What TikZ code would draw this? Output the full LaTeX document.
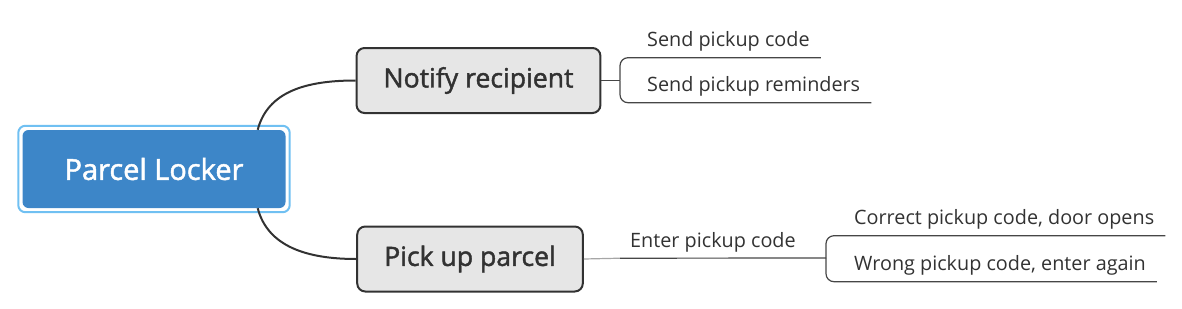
\documentclass[tikz,border=0pt]{standalone}
\usepackage{fontspec}
\setmainfont{Open Sans}
\newfontfamily\topicfont[FakeBold=1.6]{Open Sans}
\usetikzlibrary{positioning}
\definecolor{lockerblue}{RGB}{61,134,200}
\definecolor{glowblue}{RGB}{112,192,242}
\definecolor{topicgray}{RGB}{230,230,230}
\definecolor{inkgray}{RGB}{50,50,50}
\definecolor{branchgray}{RGB}{70,70,70}

\begin{document}
\begin{tikzpicture}[x=1pt, y=-1pt,
  roottopic/.style={fill=lockerblue, rounded corners=6pt, minimum width=263pt, minimum height=78pt, text=white, font=\topicfont\fontsize{29}{33}\selectfont},
  maintopic/.style={draw=inkgray, line width=2pt, fill=topicgray, rounded corners=8pt, minimum height=65pt, inner xsep=27pt, text=inkgray, font=\topicfont\fontsize{26.6}{30}\selectfont},
  subtopic/.style={anchor=base west, inner xsep=0pt, inner ysep=11pt, text depth=0pt, text=inkgray, font=\fontsize{19.8}{23}\selectfont},
  topicline/.style={draw=inkgray, line width=2pt},
  subline/.style={draw=branchgray, line width=1.2pt, rounded corners=8pt}
]
\useasboundingbox (0,0) rectangle (1182,308);

% central topic
\node[roottopic] (root) at (154,169) {Parcel Locker};
\draw[glowblue, line width=2pt, rounded corners=7pt] ([shift={(-4,-4)}]root.north west) rectangle ([shift={(4,4)}]root.south east);

% main topics
\node[maintopic] (notify) at (478.5,80.5) {Notify recipient};
\node[maintopic] (pickup) at (470,259) {Pick up parcel};

\draw[topicline] ([xshift=-28pt]root.north east) .. controls +(10,-38) and +(-50,0) .. (notify.west);
\draw[topicline] ([xshift=-28pt]root.south east) .. controls +(10,38) and +(-50,0) .. (pickup.west);

% notify branches
\coordinate (fork1) at (620,80.5);
\node[subtopic] (sendcode) at (647,46.5) {Send pickup code};
\node[subtopic] (sendremind) at (647,91.5) {Send pickup reminders};
\draw[subline] (notify.east) -- (fork1);
\draw[subline] (fork1) |- ([xshift=11pt]sendcode.south east);
\draw[subline] (fork1) |- ([xshift=11pt]sendremind.south east);

% pick up branches
\node[subtopic] (enter) at (630,247) {Enter pickup code};
\coordinate (fork2) at (826,258);
\draw[draw=gray!70, line width=1.2pt] (pickup.east) -- (enter.south west -| 620,0);
\draw[subline] (enter.south west -| 620,0) -- (fork2);
\node[subtopic] (correct) at (854,224.5) {Correct pickup code, door opens};
\node[subtopic] (wrong) at (854,270.5) {Wrong pickup code, enter again};
\draw[subline] (fork2) |- ([xshift=11pt]correct.south east);
\draw[subline] (fork2) |- ([xshift=11pt]wrong.south east);
\end{tikzpicture}
\end{document}
